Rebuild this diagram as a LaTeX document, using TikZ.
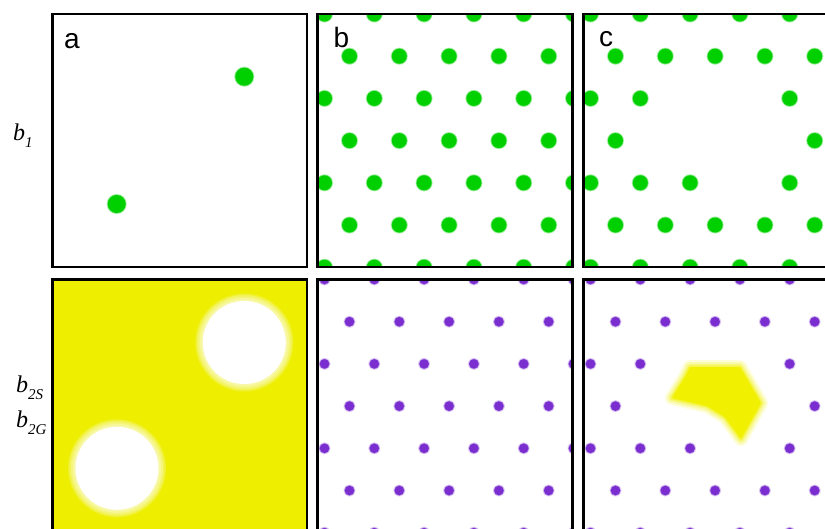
\documentclass[tikz,border=0pt]{standalone}
\usepackage{fontspec}
\setmainfont{Liberation Serif}
\newfontfamily\panelfont{Liberation Sans}
\usetikzlibrary{positioning}

\definecolor{dotgreen}{RGB}{0,208,0}
\definecolor{dotpurple}{RGB}{122,46,208}
\definecolor{fieldyellow}{RGB}{238,238,0}
\definecolor{blobyellow}{RGB}{240,240,0}

\newcommand{\lowsub}[1]{\raisebox{-0.3em}{\fontsize{15}{15}\selectfont\itshape #1}}
% rows of the lattice: row/{columns}
\newcommand{\fulllattice}{0/{0,...,5},1/{0,...,4},2/{0,...,5},3/{0,...,4},4/{0,...,5},5/{0,...,4},6/{0,...,5}}
\newcommand{\holedlattice}{0/{0,...,5},1/{0,...,4},2/{0,1,4,5},3/{0,4},4/{0,1,2,4,5},5/{0,...,4},6/{0,...,5}}
% #1,#2 panel corner, #3 rows, #4 colour, #5 radius
\newcommand{\dotlattice}[5]{%
  \foreach \k/\js in #3 {
    \foreach \j in \js {
      \pgfmathsetmacro{\dx}{#1+7+25*mod(\k,2)+49.8*\j}
      \pgfmathsetmacro{\dy}{#2+42.2*\k}
      \fill[#4, opacity=0.2] (\dx,\dy) circle[radius=#5pt+1.2pt];
      \fill[#4, opacity=0.4] (\dx,\dy) circle[radius=#5pt+0.6pt];
      \fill[#4] (\dx,\dy) circle[radius=#5pt];
    }
  }}

\begin{document}
\begin{tikzpicture}[x=1pt, y=-1pt,
  frame/.style={draw=black, line width=2.4pt},
  letter/.style={font=\panelfont\fontsize{28}{30}\selectfont, anchor=base west, inner sep=0pt},
  rowlabel/.style={font=\fontsize{24}{26}\selectfont\itshape, anchor=base west, inner sep=0pt},
  hole/.style={fill=white, opacity=0.2}
]
  \useasboundingbox (0,0) rectangle (825,528);
  \clip (0,0) rectangle (825,528);

  % Top row: a
  \foreach \cx/\cy in {244.3/76.7, 116.7/204} {
    \fill[dotgreen, opacity=0.2] (\cx,\cy) circle[radius=10.3pt];
    \fill[dotgreen, opacity=0.4] (\cx,\cy) circle[radius=9.6pt];
    \fill[dotgreen] (\cx,\cy) circle[radius=9pt];
  }
  \draw[frame] (52.5,14) rectangle (306.7,267);

  % Top row: b
  \begin{scope}
    \clip (317.5,14) rectangle (572.3,267);
    \dotlattice{317.5}{14}{\fulllattice}{dotgreen}{7.5}
  \end{scope}
  \draw[frame] (317.5,14) rectangle (572.3,267);

  % Top row: c
  \begin{scope}
    \clip (583.5,14) rectangle (838,267);
    \dotlattice{583.5}{14}{\holedlattice}{dotgreen}{7.5}
  \end{scope}
  \draw[frame] (583.5,14) rectangle (838,267);

  % Bottom row: a
  \fill[fieldyellow] (52.5,279.5) rectangle (306.7,532.5);
  \foreach \cx/\cy in {244.3/342.5, 117/468.3} {
    \foreach \rr in {49,47.5,46,44.5,43} {
      \fill[hole] (\cx,\cy) circle[radius=\rr pt];
    }
    \fill[white] (\cx,\cy) circle[radius=41.5pt];
  }
  \draw[frame] (52.5,279.5) rectangle (306.7,532.5);

  % Bottom row: b
  \begin{scope}
    \clip (317.5,279.5) rectangle (572.3,532.5);
    \dotlattice{317.5}{279.5}{\fulllattice}{dotpurple}{4.8}
  \end{scope}
  \draw[frame] (317.5,279.5) rectangle (572.3,532.5);

  % Bottom row: c
  \begin{scope}
    \clip (583.5,279.5) rectangle (838,532.5);
    \foreach \w/\o in {14/0.15, 10/0.2, 6/0.3, 3/0.4} {
      \filldraw[blobyellow, opacity=\o, line width=\w pt, line join=round]
        (690,367) -- (740,367) -- (761,403) -- (741,439) -- (725,417) -- (707,406)
        -- (685,401) -- (672,398) -- (685,377) -- cycle;
    }
    \fill[blobyellow, rounded corners=3pt]
      (690,367) -- (740,367) -- (761,403) -- (741,439) -- (725,417) -- (707,406)
      -- (685,401) -- (672,398) -- (685,377) -- cycle;
    \dotlattice{583.5}{279.5}{\holedlattice}{dotpurple}{4.8}
  \end{scope}
  \draw[frame] (583.5,279.5) rectangle (838,532.5);

  % Labels
  \node[letter] (la) at (64,48.3) {a};
  \node[letter] (lb) at (333.3,47.3) {b};
  \node[letter] (lc) at (599,46.7) {c};
  \node[rowlabel] (bone) at (13,140) {b\lowsub{1}};
  \node[rowlabel] (btwos) at (16,392) {b\lowsub{2S}};
  \node[rowlabel] (btwog) at (16,427) {b\lowsub{2G}};
\end{tikzpicture}
\end{document}
